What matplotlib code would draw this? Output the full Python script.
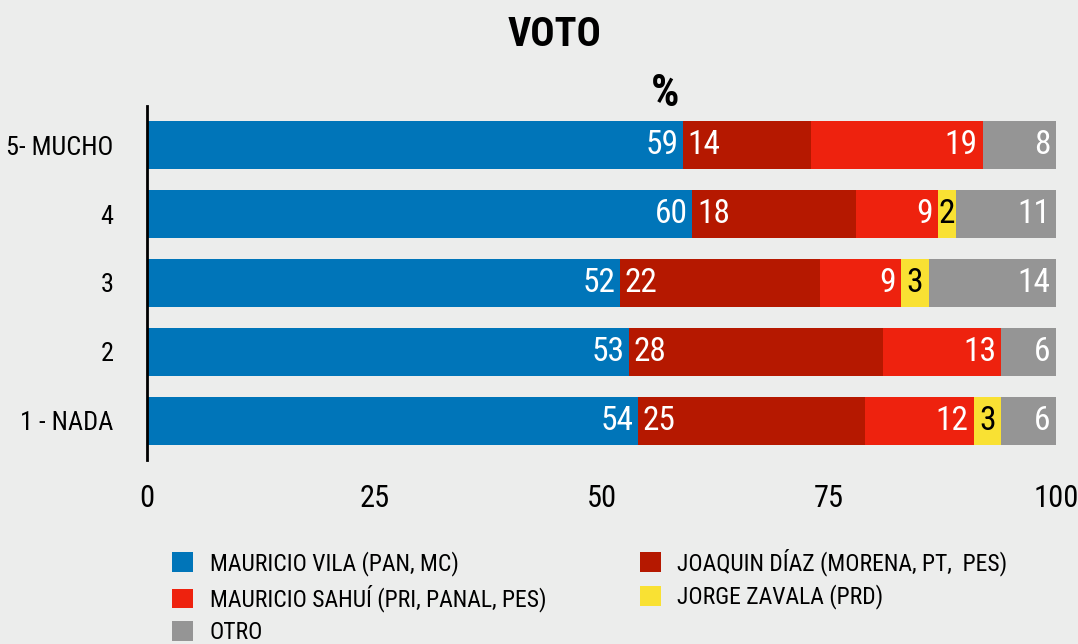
import matplotlib
matplotlib.use("Agg")
import matplotlib.pyplot as plt
from matplotlib.patches import Patch
from matplotlib import font_manager

categories = ["5- MUCHO", "4", "3", "2", "1 - NADA"]
series_names = ["MAURICIO VILA (PAN, MC)", "JOAQUIN DÍAZ (MORENA, PT,  PES)",
                "MAURICIO SAHUÍ (PRI, PANAL, PES)", "JORGE ZAVALA (PRD)", "OTRO"]
vila = [59, 60, 52, 53, 54]
diaz = [14, 18, 22, 28, 25]
sahui = [19, 9, 9, 13, 12]
zavala = [0, 2, 3, 0, 3]
otro = [8, 11, 14, 6, 6]
xticks = [0, 25, 50, 75, 100]

colors = ["#0075B9", "#B51800", "#EE220E", "#F9E133", "#959595"]
bg = "#ECEDEC"

names = {f.name for f in font_manager.fontManager.ttflist}
fam = "DejaVu Sans"
for cand in ["Roboto Condensed", "Liberation Sans Narrow", "DejaVu Sans Condensed"]:
    if cand in names:
        fam = cand
        break
FONT = dict(family=fam)

fig = plt.figure(figsize=(10.78, 6.44), dpi=100, facecolor=bg)
ax = fig.add_axes([147/1078, 1-460/644, (1056-147)/1078, (460-106)/644], facecolor=bg)

series = [vila, diaz, sahui, zavala, otro]
ypos = list(range(len(categories)))
left = [0]*len(categories)
for si, vals in enumerate(series):
    ax.barh(ypos, vals, left=left, height=0.69, color=colors[si], linewidth=0)
    for i, v in enumerate(vals):
        if v == 0:
            continue
        start = left[i]
        end = start + v
        if si == 0:
            x, ha = end - 0.5, "right"
        elif si == 1:
            x, ha = start + 0.5, "left"
        elif si == 3:
            x, ha = start + v/2, "center"
        else:
            x, ha = end - 0.6, "right"
        col = "black" if si == 3 else "white"
        ax.text(x, i, str(v), ha=ha, va="center", color=col, fontsize=24, **FONT)
    left = [l + v for l, v in zip(left, vals)]

ax.set_xlim(0, 100)
ax.set_ylim(len(categories) - 0.43, -0.57)
ax.set_yticks(ypos)
ax.set_yticklabels(categories, fontsize=19, **FONT)
ax.set_xticks(xticks)
ax.set_xticklabels([str(t) for t in xticks], fontsize=22, **FONT)
ax.tick_params(axis="both", length=0)
ax.tick_params(axis="y", pad=24)
ax.tick_params(axis="x", pad=17)
for s in ["top", "right", "bottom"]:
    ax.spines[s].set_visible(False)
ax.spines["left"].set_linewidth(2)
ax.spines["left"].set_color("black")

fig.text(555/1078, 1-35/644, "VOTO", ha="center", va="center", fontsize=29,
         fontweight="bold", **FONT)
fig.text(665/1078, 1-94/644, "%", ha="center", va="center", fontsize=32,
         fontweight="bold", **FONT)

handles = [Patch(facecolor=colors[i], edgecolor="none") for i in [0, 2, 4, 1, 3]]
labels = [series_names[i] for i in [0, 2, 4, 1, 3]]
leg = fig.legend(handles, labels, ncol=2, loc="upper left",
                 bbox_to_anchor=(172/1078, 1-548/644), frameon=False,
                 prop=dict(size=17, **FONT), handlelength=0.9, handleheight=0.9,
                 handletextpad=0.7, labelspacing=0.38, columnspacing=3.95,
                 borderaxespad=0, borderpad=0)

fig.savefig("out.png", dpi=100, facecolor=bg)
